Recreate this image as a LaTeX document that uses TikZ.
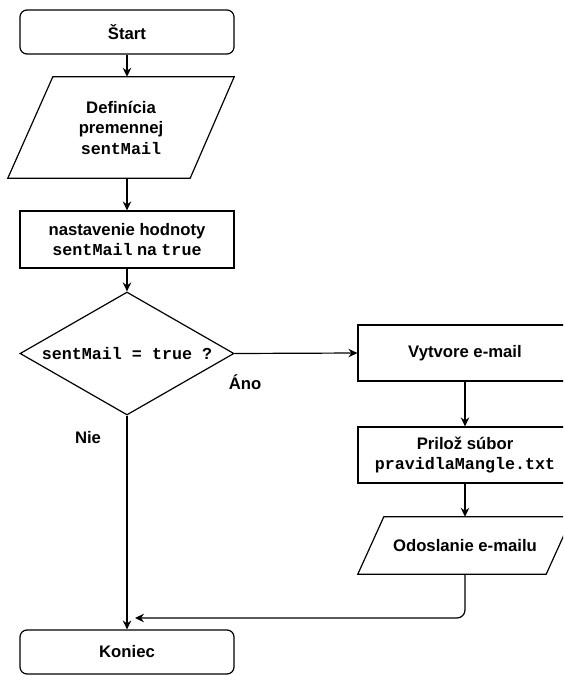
\documentclass[tikz,border=0pt]{standalone}
\usepackage{fontspec}
\setmainfont{Liberation Sans}
\setmonofont{Liberation Mono}
\usetikzlibrary{arrows.meta,shapes.geometric,calc}
\tikzset{
  txt/.style={font=\bfseries\fontsize{16.7}{20.5}\selectfont, align=center, inner sep=0pt},
  box/.style={txt, draw, line width=1.2pt, minimum width=214pt},
  term/.style={box, rounded corners=7pt, minimum height=44pt},
  proc/.style={box, minimum height=56pt},
  ghost/.style={txt, minimum width=#1},
  outline/.style={line width=1.2pt, line join=miter},
  conn/.style={line width=1.2pt, -{Stealth[length=9pt,width=8.5pt,inset=3pt]}},
  lbl/.style={font=\bfseries\fontsize{16.7}{20}\selectfont, inner sep=0pt}
}
\begin{document}
\begin{tikzpicture}[x=1pt,y=-1pt]
\useasboundingbox (0,0) rectangle (563,675);
\clip (0,0) rectangle (563,675);

% left column
\node[term] (start) at (127,32) {Štart};
\node[ghost=226pt, minimum height=101pt] (def) at (121,127.5) {Definícia\\premennej\\\texttt{sentMail}};
\draw[outline] ($(def.north west)+(45,0)$) -- (def.north east) -- ($(def.south east)+(-44,0)$) -- (def.south west) -- cycle;
\node[proc, minimum height=57pt] (set) at (127,239.5) {nastavenie hodnoty\\\texttt{sentMail} na \texttt{true}};
\node[diamond, draw, line width=1.2pt, minimum width=214pt, minimum height=123pt, aspect=1.74, inner sep=0pt] (dec) at (127,353.5) {};
\node[txt] (dect) at (dec) {\texttt{sentMail = true ?}};
\node[term] (kon) at (127,652) {Koniec};

% right column
\node[proc] (vyt) at (465,353) {Vytvore e-mail};
\node[proc] (pri) at (465,455) {Prilož súbor\\\texttt{pravidlaMangle.txt}};
\node[ghost=214pt, minimum height=57pt] (odo) at (465,545.5) {Odoslanie e-mailu};
\draw[outline] ($(odo.north west)+(26,0)$) -- (odo.north east) -- ($(odo.south east)+(-26,0)$) -- (odo.south west) -- cycle;

% labels
\node[lbl] (ano) at (245,382) {Áno};
\node[lbl] (nie) at (88,438) {Nie};

% connectors
\coordinate (join) at (135,618);
\draw[conn] (start.south) -- (start |- def.north);
\draw[conn] (start |- def.south) -- (set.north);
\draw[conn] (set.south) -- (dec.north);
\draw[conn] (dec.east) -- (vyt.west);
\draw[conn] (vyt.south) -- (pri.north);
\draw[conn] (pri.south) -- (odo.north);
\draw[conn, rounded corners=8pt] (odo.south) |- (join);
\draw[conn] (dec.south) -- (kon.north);
\end{tikzpicture}
\end{document}
